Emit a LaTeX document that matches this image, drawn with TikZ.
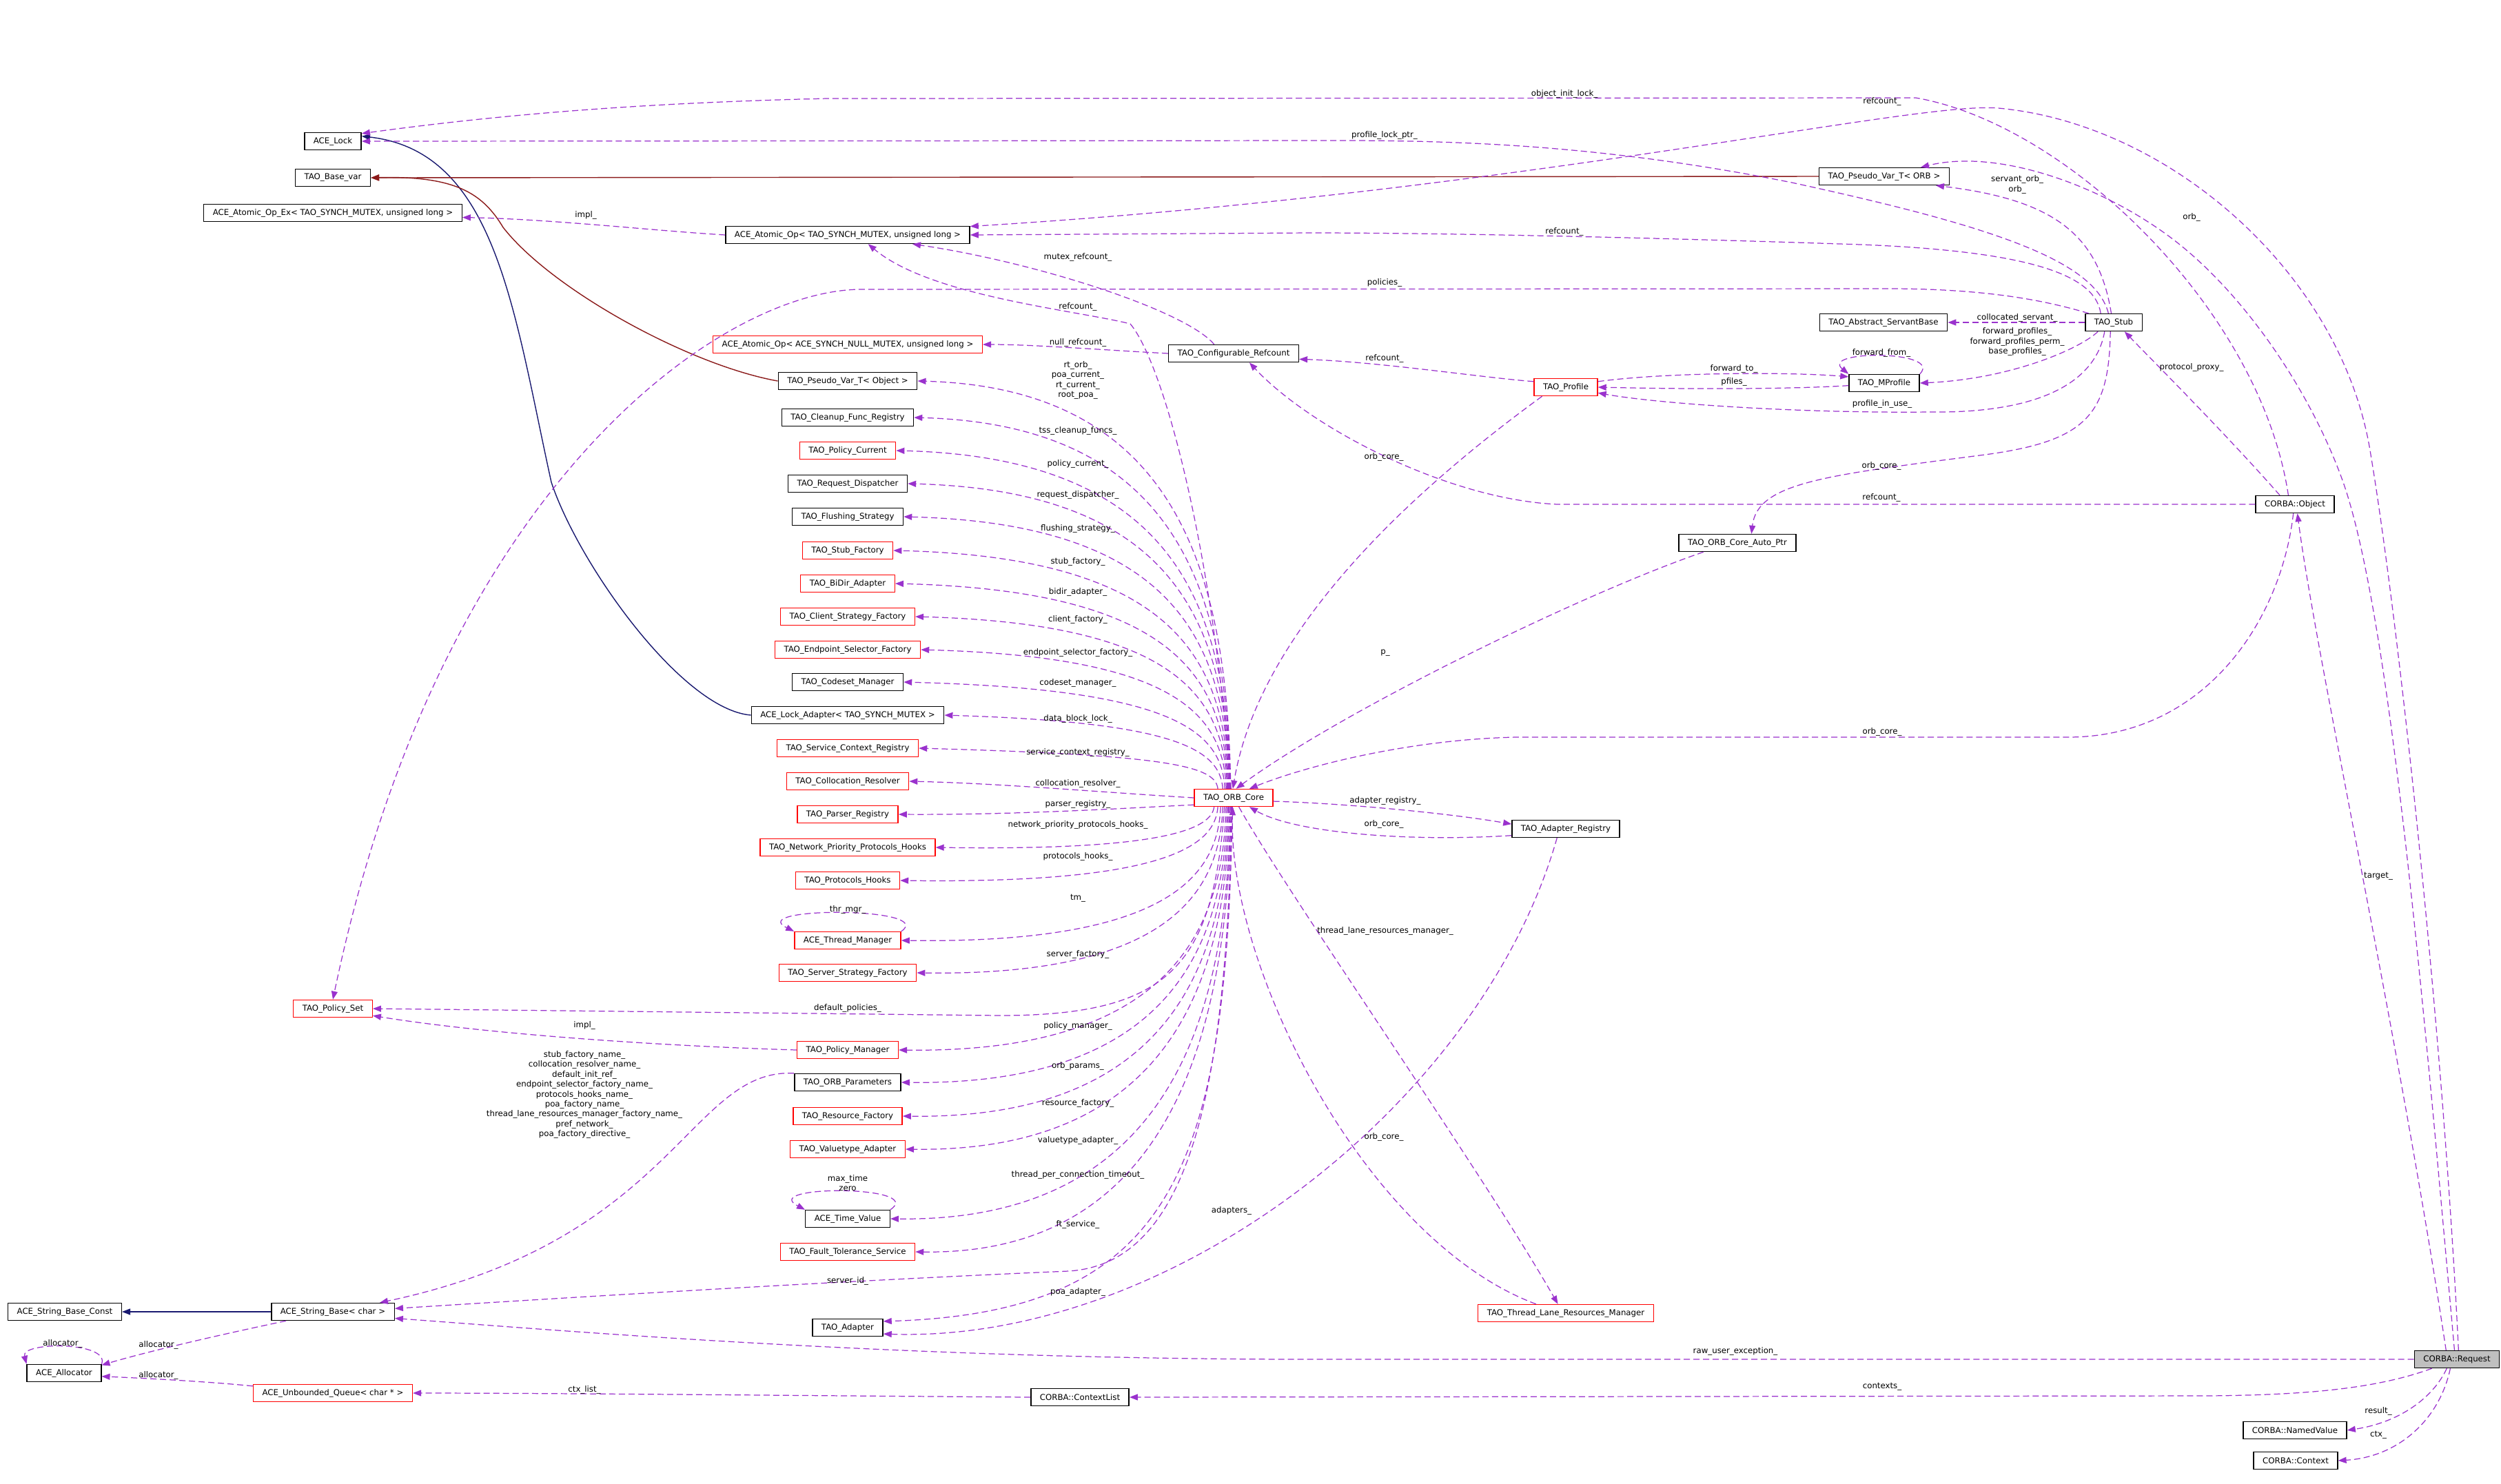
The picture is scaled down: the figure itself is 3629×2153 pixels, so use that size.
\documentclass[tikz,border=0pt]{standalone}
\usepackage{fontspec}
\setmainfont{DejaVu Sans}
\usetikzlibrary{arrows.meta}
\definecolor{memberc}{HTML}{9A32CD}
\definecolor{pubinh}{HTML}{191970}
\definecolor{privinh}{HTML}{8B1A1A}
\definecolor{redbox}{HTML}{FF0000}
\definecolor{reqfill}{HTML}{BFBFBF}
\newcommand{\dxfont}{\fontsize{3.35}{4.1}\selectfont}
\tikzset{
  cls/.style={draw=black, line width=0.4pt, minimum height=0.25cm, inner xsep=0.13cm, inner ysep=0pt, font=\dxfont},
  clsred/.style={cls, draw=redbox},
  member/.style={draw=memberc, line width=0.35pt, dash pattern=on 0.09cm off 0.05cm, -{Triangle[length=0.12cm,width=0.09cm]}},
  pubarrow/.style={draw=pubinh, line width=0.4pt, -{Triangle[length=0.12cm,width=0.09cm]}},
  privarrow/.style={draw=privinh, line width=0.4pt, -{Triangle[length=0.12cm,width=0.09cm]}},
  lbl/.style={font=\dxfont, inner sep=0pt, align=center}
}
\begin{document}
\begin{tikzpicture}[x=0.01cm, y=-0.01cm]
      \fill[white] (0,0) rectangle (3629,2153);
      \useasboundingbox (0,0) rectangle (3629,2153);

      \node[cls] (lock) at (483,205) {ACE\_Lock};
      \node[cls] (basevar) at (483,258) {TAO\_Base\_var};
      \node[cls] (atomicex) at (483,309) {ACE\_Atomic\_Op\_Ex< TAO\_SYNCH\_MUTEX, unsigned long >};
      \node[cls] (atomic) at (1230,341) {ACE\_Atomic\_Op< TAO\_SYNCH\_MUTEX, unsigned long >};
      \node[clsred] (atomicnull) at (1230,500) {ACE\_Atomic\_Op< ACE\_SYNCH\_NULL\_MUTEX, unsigned long >};
      \node[cls] (pvobj) at (1230,553) {TAO\_Pseudo\_Var\_T< Object >};
      \node[cls] (cleanup) at (1230,606) {TAO\_Cleanup\_Func\_Registry};
      \node[clsred] (polcur) at (1230,654) {TAO\_Policy\_Current};
      \node[cls] (reqdisp) at (1230,702) {TAO\_Request\_Dispatcher};
      \node[cls] (flush) at (1230,750) {TAO\_Flushing\_Strategy};
      \node[clsred] (stubfac) at (1230,799) {TAO\_Stub\_Factory};
      \node[clsred] (bidir) at (1230,847) {TAO\_BiDir\_Adapter};
      \node[clsred] (clifac) at (1230,895) {TAO\_Client\_Strategy\_Factory};
      \node[clsred] (endpt) at (1230,943) {TAO\_Endpoint\_Selector\_Factory};
      \node[cls] (codeset) at (1230,990) {TAO\_Codeset\_Manager};
      \node[cls] (lockadapt) at (1230,1038) {ACE\_Lock\_Adapter< TAO\_SYNCH\_MUTEX >};
      \node[clsred] (svcctx) at (1230,1086) {TAO\_Service\_Context\_Registry};
      \node[clsred] (colloc) at (1230,1134) {TAO\_Collocation\_Resolver};
      \node[clsred] (parser) at (1230,1182) {TAO\_Parser\_Registry};
      \node[clsred] (netprio) at (1230,1230) {TAO\_Network\_Priority\_Protocols\_Hooks};
      \node[clsred] (protohooks) at (1230,1278) {TAO\_Protocols\_Hooks};
      \node[clsred] (thrmgr) at (1230,1365) {ACE\_Thread\_Manager};
      \node[clsred] (srvfac) at (1230,1412) {TAO\_Server\_Strategy\_Factory};
      \node[clsred] (polset) at (483,1464) {TAO\_Policy\_Set};
      \node[clsred] (polmgr) at (1230,1524) {TAO\_Policy\_Manager};
      \node[cls] (orbparams) at (1230,1571) {TAO\_ORB\_Parameters};
      \node[clsred] (resfac) at (1230,1620) {TAO\_Resource\_Factory};
      \node[clsred] (valtype) at (1230,1668) {TAO\_Valuetype\_Adapter};
      \node[cls] (timeval) at (1230,1769) {ACE\_Time\_Value};
      \node[clsred] (ft) at (1230,1817) {TAO\_Fault\_Tolerance\_Service};
      \node[cls] (adapter) at (1230,1927) {TAO\_Adapter};
      \node[cls] (strconst) at (94,1904) {ACE\_String\_Base\_Const};
      \node[cls] (strbase) at (483,1904) {ACE\_String\_Base< char >};
      \node[cls] (alloc) at (93,1993) {ACE\_Allocator};
      \node[clsred] (queue) at (483,2022) {ACE\_Unbounded\_Queue< char * >};
      \node[cls] (ctxlist) at (1567,2028) {CORBA::ContextList};
      \node[clsred] (core) at (1790,1158) {TAO\_ORB\_Core};
      \node[cls] (refc) at (1790,513) {TAO\_Configurable\_Refcount};
      \node[clsred] (profile) at (2272,562) {TAO\_Profile};
      \node[cls] (mprofile) at (2734,556) {TAO\_MProfile};
      \node[cls] (pvorb) at (2734,256) {TAO\_Pseudo\_Var\_T< ORB >};
      \node[cls] (servant) at (2733,468) {TAO\_Abstract\_ServantBase};
      \node[cls] (stub) at (3067,468) {TAO\_Stub};
      \node[cls] (object) at (3330,732) {CORBA::Object};
      \node[cls] (autoptr) at (2521,788) {TAO\_ORB\_Core\_Auto\_Ptr};
      \node[cls] (adreg) at (2272,1203) {TAO\_Adapter\_Registry};
      \node[clsred] (tlrm) at (2272,1906) {TAO\_Thread\_Lane\_Resources\_Manager};
      \node[cls, fill=reqfill] (request) at (3565,1973) {CORBA::Request};
      \node[cls] (named) at (3330,2076) {CORBA::NamedValue};
      \node[cls] (context) at (3331,2120) {CORBA::Context};

      \draw[pubarrow] (strbase.west) -- (strconst.east);
      \draw[pubarrow] (lockadapt.west) .. controls (990,1030) and (840,820) .. (800,700)
        .. controls (745,450) and (720,220) .. (lock.10);
      \draw[privarrow] (pvorb.west) -- (basevar.east);
      \draw[privarrow] (pvobj.west) .. controls (1000,530) and (800,420) .. (730,330)
        .. controls (700,280) and (660,255) .. (basevar.east);

      \foreach \n/\a/\yy in {pvobj/108/553, cleanup/110/606, polcur/112/654, reqdisp/114/702,
          flush/116/750, stubfac/119/799, bidir/122/847, clifac/125/895, endpt/129/943,
          codeset/134/990, lockadapt/140/1038, svcctx/150/1086}
        \draw[member] (core.\a) .. controls +(-4,{-0.55*(1145-\yy)}) and (1700,\yy+10) .. (\n.east);
      \foreach \n/\a/\yy in {netprio/205/1230, protohooks/210/1278, thrmgr/215/1365, srvfac/220/1412,
          polmgr/230/1524, orbparams/235/1571, resfac/240/1620, valtype/245/1668,
          timeval/250/1769, ft/254/1817}
        \draw[member] (core.\a) .. controls +(-4,{0.5*(\yy-1171)}) and (1700,\yy+5) .. (\n.east);
      \draw[member] (core.west) .. controls (1600,1150) and (1450,1137) .. (colloc.east);
      \draw[member] (core.190) .. controls (1650,1172) and (1480,1183) .. (parser.east);
      \draw[member] (core.225) .. controls (1760,1400) and (1700,1474) .. (1450,1474) -- (polset.east);
      \draw[member] (core.258) .. controls (1780,1600) and (1720,1835) .. (1550,1845)
        .. controls (1200,1860) and (800,1885) .. (strbase.3);
      \draw[member] (core.262) .. controls (1780,1700) and (1700,1905) .. (adapter.10);
      \draw[member] (core.106) .. controls (1760,800) and (1690,530) .. (1640,470)
        .. controls (1560,450) and (1350,430) .. (atomic.336);
      \draw[member] (core.355) .. controls (1950,1166) and (2100,1180) .. (adreg.175);
      \draw[member] (adreg.187) .. controls (2050,1222) and (1880,1210) .. (core.330);
      \draw[member] (adreg.226) .. controls (2150,1600) and (1700,1950) .. (adapter.350);
      \draw[member] (core.300) .. controls (1870,1300) and (2150,1700) .. (tlrm.131);
      \draw[member] (tlrm.163) .. controls (1980,1800) and (1780,1400) .. (core.265);

      \draw[member] (atomic.west) .. controls (950,335) and (800,318) .. (atomicex.358);
      \draw[member] (refc.west) .. controls (1600,508) and (1500,500) .. (atomicnull.east);
      \draw[member] (refc.155) .. controls (1720,450) and (1500,380) .. (atomic.352);
      \draw[member] (profile.170) .. controls (2150,548) and (2000,525) .. (refc.355);
      \draw[member] (profile.201) .. controls (2080,690) and (1830,900) .. (core.95);
      \draw[member] (profile.10) .. controls (2420,540) and (2600,540) .. (mprofile.170);
      \draw[member] (mprofile.184) .. controls (2600,565) and (2450,565) .. (profile.east);
      \draw[member] (mprofile.north east) .. controls (2820,508) and (2640,508) .. (mprofile.north west);
      \draw[member] (autoptr.195) .. controls (2300,860) and (1950,1030) .. (core.75);

      \draw[member] (stub.west) -- (servant.east);
      \draw[member] (stub.210) .. controls (3020,505) and (2920,550) .. (mprofile.east);
      \draw[member] (stub.225) .. controls (3040,560) and (2950,600) .. (2800,598)
        .. controls (2600,600) and (2400,585) .. (profile.350);
      \draw[member] (stub.250) .. controls (3060,600) and (3030,640) .. (2880,660)
        .. controls (2650,690) and (2550,700) .. (autoptr.33);
      \draw[member] (stub.105) .. controls (3045,340) and (2980,290) .. (pvorb.350);
      \draw[member] (stub.145) .. controls (3040,400) and (2950,365) .. (2700,355)
        .. controls (2400,345) and (2100,338) .. (1900,338) -- (atomic.east);
      \draw[member] (stub.120) .. controls (3040,380) and (2900,330) .. (2600,265)
        .. controls (2350,215) and (2150,204) .. (1950,204) -- (lock.east);
      \draw[member] (stub.160) .. controls (2980,440) and (2900,420) .. (2750,419) -- (1250,420)
        .. controls (1050,420) and (640,700) .. (polset.north);

      \draw[member] (object.149) .. controls (3230,630) and (3120,520) .. (stub.320);
      \draw[member] (object.126) .. controls (3280,450) and (3000,180) .. (2780,142) -- (1200,143)
        .. controls (900,150) and (700,170) .. (lock.15);
      \draw[member] (object.west) -- (2260,732) .. controls (2100,725) and (1900,620) .. (refc.330);
      \draw[member] (object.260) .. controls (3310,900) and (3200,1070) .. (3000,1070) -- (2200,1070)
        .. controls (2050,1073) and (1900,1110) .. (core.30);

      \draw[member] (request.140) .. controls (3480,1500) and (3360,950) .. (object.285);
      \draw[member] (request.105) .. controls (3520,1500) and (3470,900) .. (3400,700)
        .. controls (3350,560) and (3250,420) .. (3150,345)
        .. controls (3050,270) and (2900,215) .. (pvorb.14);
      \draw[member] (request.80) .. controls (3545,1500) and (3480,900) .. (3440,660)
        .. controls (3400,400) and (3150,180) .. (2900,157)
        .. controls (2780,146) and (2200,280) .. (atomic.4);
      \draw[member] (request.west) -- (1900,1973) .. controls (1300,1973) and (800,1930) .. (strbase.354);
      \draw[member] (request.200) .. controls (3450,2015) and (3350,2025) .. (3200,2026) -- (ctxlist.east);
      \draw[member] (request.222) .. controls (3530,2030) and (3480,2065) .. (named.east);
      \draw[member] (request.234) .. controls (3540,2060) and (3480,2115) .. (context.east);

      \draw[member] (polmgr.west) .. controls (950,1518) and (700,1500) .. (polset.350);
      \draw[member] (orbparams.north west) .. controls (1000,1550) and (980,1800) .. (strbase.11);
      \draw[member] (thrmgr.north east) .. controls (1360,1316) and (1080,1316) .. (thrmgr.north west);
      \draw[member] (timeval.north east) .. controls (1345,1720) and (1100,1720) .. (timeval.north west);
      \draw[member] (ctxlist.west) .. controls (1200,2026) and (800,2022) .. (queue.east);
      \draw[member] (queue.175) .. controls (300,2005) and (200,2000) .. (alloc.355);
      \draw[member] (strbase.191) .. controls (330,1935) and (220,1960) .. (alloc.12);
      \draw[member] (alloc.north east) .. controls (160,1947) and (30,1947) .. (alloc.north west);

      \foreach \lx/\ly/\lt [count=\i] in {850/312/impl\_, 2270/136/object\_init\_lock\_,
          2731/147/refcount\_, 2009/196/profile\_lock\_ptr\_, 2927/268/{servant\_orb\_\\orb\_},
          3180/315/orb\_, 2270/336/refcount\_, 1564/373/mutex\_refcount\_, 2009/410/policies\_,
          1564/445/refcount\_, 2927/461/collocated\_servant\_,
          2927/496/{forward\_profiles\_\\forward\_profiles\_perm\_\\base\_profiles\_},
          1564/497/null\_refcount\_, 2730/512/forward\_from\_, 2009/520/refcount\_,
          3180/533/protocol\_proxy\_, 2516/535/forward\_to\_,
          1564/552/{rt\_orb\_\\poa\_current\_\\rt\_current\_\\root\_poa\_}, 2516/554/pfiles\_,
          2731/586/profile\_in\_use\_, 1564/625/tss\_cleanup\_funcs\_, 2008/663/orb\_core\_,
          1564/673/policy\_current\_, 2730/676/orb\_core\_, 1564/718/request\_dispatcher\_,
          2730/722/refcount\_, 1564/767/flushing\_strategy\_, 1564/815/stub\_factory\_,
          1564/859/bidir\_adapter\_, 1564/899/client\_factory\_, 1564/947/endpoint\_selector\_factory\_,
          2010/948/p\_, 1564/991/codeset\_manager\_, 1564/1043/data\_block\_lock\_,
          2731/1062/orb\_core\_, 1564/1092/service\_context\_registry\_, 1564/1137/collocation\_resolver\_,
          2010/1162/adapter\_registry\_, 1564/1167/parser\_registry\_, 2008/1196/orb\_core\_,
          1564/1197/network\_priority\_protocols\_hooks\_, 1564/1243/protocols\_hooks\_,
          3451/1272/target\_, 1564/1304/tm\_, 1230/1320/thr\_mgr\_,
          2010/1351/thread\_lane\_resources\_manager\_, 1564/1385/server\_factory\_,
          1230/1463/default\_policies\_, 848/1488/impl\_, 1564/1489/policy\_manager\_,
          848/1589/{stub\_factory\_name\_\\collocation\_resolver\_name\_\\default\_init\_ref\_\\endpoint\_selector\_factory\_name\_\\protocols\_hooks\_name\_\\poa\_factory\_name\_\\thread\_lane\_resources\_manager\_factory\_name\_\\pref\_network\_\\poa\_factory\_directive\_},
          1564/1547/orb\_params\_, 1564/1601/resource\_factory\_, 2008/1650/orb\_core\_,
          1564/1655/valuetype\_adapter\_, 1564/1705/thread\_per\_connection\_timeout\_,
          1230/1717/{max\_time\\zero}, 1787/1757/adapters\_, 1564/1777/ft\_service\_,
          1230/1859/server\_id\_, 1564/1875/poa\_adapter\_, 91/1950/allocator\_,
          230/1952/allocator\_, 2518/1961/raw\_user\_exception\_, 230/1996/allocator\_,
          2731/2013/contexts\_, 848/2017/ctx\_list\_, 3451/2048/result\_, 3451/2083/ctx\_}
        \node[lbl] (lab\i) at (\lx,\ly) {\lt};
    \end{tikzpicture}
\end{document}
